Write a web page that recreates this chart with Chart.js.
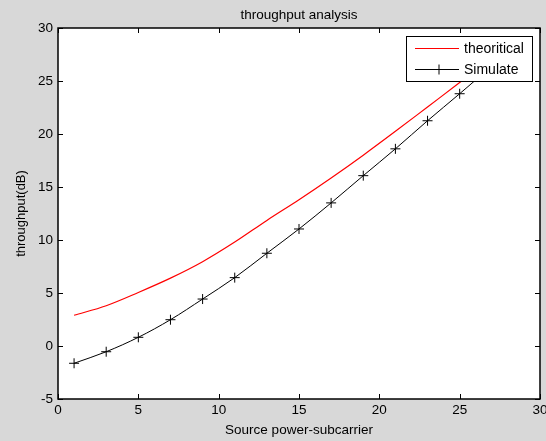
<!DOCTYPE html>
<html lang="en">
<head>
    <meta charset="UTF-8">
    <title>throughput analysis</title>
    <script src="https://cdn.jsdelivr.net/npm/chart.js"></script>
    <style>
        html, body {
            margin: 0;
            padding: 0;
            background: #d8d8d8;
        }
        .chart-box {
            width: 546px;
            height: 441px;
        }
    </style>
</head>
<body>
    <div class="chart-box">
        <canvas id="throughputChart" width="546" height="441"></canvas>
    </div>

    <script>
        // values
        const powerLevels = [1, 3, 5, 7, 9, 11, 13, 15, 17, 19, 21, 23, 25, 27];
        const theoretical = [2.9, 3.8, 5.05, 6.4, 7.95, 9.8, 11.85, 13.8, 15.85, 18.0, 20.25, 22.55, 24.85, 27.2];
        const simulated = [-1.63, -0.54, 0.82, 2.48, 4.43, 6.45, 8.75, 11.04, 13.5, 16.07, 18.6, 21.25, 23.8, 26.4];

        const FONT = 'Arial, "Liberation Sans", sans-serif';

        function toPoints(xs, ys) {
            return xs.map((x, i) => ({ x: x, y: ys[i] }));
        }

        // white plot area, box and inward ticks like matlab
        const matlabAxes = {
            id: 'matlabAxes',
            beforeDatasetsDraw(chart) {
                const { ctx, chartArea: a } = chart;
                ctx.save();
                ctx.fillStyle = '#ffffff';
                ctx.fillRect(a.left, a.top, a.right - a.left, a.bottom - a.top);
                ctx.restore();
            },
            afterDraw(chart) {
                const { ctx, chartArea: a, scales } = chart;
                const len = 5;
                ctx.save();
                ctx.strokeStyle = '#000000';
                ctx.lineWidth = 1;
                ctx.beginPath();
                scales.x.ticks.forEach(t => {
                    const px = Math.round(scales.x.getPixelForValue(t.value)) + 0.5;
                    ctx.moveTo(px, a.bottom);
                    ctx.lineTo(px, a.bottom - len);
                    ctx.moveTo(px, a.top);
                    ctx.lineTo(px, a.top + len);
                });
                scales.y.ticks.forEach(t => {
                    const py = Math.round(scales.y.getPixelForValue(t.value)) + 0.5;
                    ctx.moveTo(a.left, py);
                    ctx.lineTo(a.left + len, py);
                    ctx.moveTo(a.right, py);
                    ctx.lineTo(a.right - len, py);
                });
                ctx.stroke();
                ctx.lineWidth = 1.5;
                ctx.strokeRect(a.left, a.top, a.right - a.left, a.bottom - a.top);
                ctx.restore();
            }
        };

        // boxed legend in the top right corner
        const boxedLegend = {
            id: 'boxedLegend',
            afterDatasetsDraw(chart) {
                const { ctx, chartArea: a } = chart;
                const w = 126, h = 45;
                const x = a.right - w - 8;
                const y = a.top + 8;
                ctx.save();
                ctx.fillStyle = '#ffffff';
                ctx.fillRect(x, y, w, h);
                ctx.strokeStyle = '#000000';
                ctx.lineWidth = 1;
                ctx.strokeRect(x + 0.5, y + 0.5, w, h);

                chart.data.datasets.forEach((ds, i) => {
                    const cy = y + 12.5 + i * 21;
                    ctx.strokeStyle = ds.borderColor;
                    ctx.lineWidth = 1;
                    ctx.beginPath();
                    ctx.moveTo(x + 9, cy);
                    ctx.lineTo(x + 53, cy);
                    if (ds.pointStyle === 'cross') {
                        const mx = x + 33, r = 5;
                        ctx.moveTo(mx - r, cy);
                        ctx.lineTo(mx + r, cy);
                        ctx.moveTo(mx, cy - r);
                        ctx.lineTo(mx, cy + r);
                    }
                    ctx.stroke();
                    ctx.fillStyle = '#000000';
                    ctx.font = '14px ' + FONT;
                    ctx.textBaseline = 'middle';
                    ctx.textAlign = 'left';
                    ctx.fillText(ds.label, x + 58, cy + 1);
                });
                ctx.restore();
            }
        };

        const ctx = document.getElementById('throughputChart').getContext('2d');
        new Chart(ctx, {
            type: 'line',
            data: {
                datasets: [{
                    label: 'theoritical',
                    data: toPoints(powerLevels, theoretical),
                    borderColor: '#ff0000',
                    borderWidth: 1.2,
                    pointRadius: 0,
                    cubicInterpolationMode: 'monotone',
                    fill: false
                }, {
                    label: 'Simulate',
                    data: toPoints(powerLevels, simulated),
                    borderColor: '#000000',
                    borderWidth: 1,
                    pointStyle: 'cross',
                    pointRadius: 5,
                    pointBorderWidth: 1,
                    pointBorderColor: '#000000',
                    cubicInterpolationMode: 'monotone',
                    fill: false
                }]
            },
            options: {
                responsive: false,
                animation: false,
                events: [],
                layout: {
                    padding: { left: 0, right: 5, top: 0, bottom: 0 }
                },
                plugins: {
                    legend: { display: false },
                    tooltip: { enabled: false },
                    title: {
                        display: true,
                        text: 'throughput analysis',
                        fullSize: false,
                        color: '#000000',
                        font: { family: FONT, size: 13.5, weight: 'normal' },
                        padding: { top: 7, bottom: 4.8 }
                    }
                },
                scales: {
                    x: {
                        type: 'linear',
                        min: 0,
                        max: 30,
                        ticks: {
                            stepSize: 5,
                            color: '#000000',
                            padding: 3,
                            maxRotation: 0,
                            font: { family: FONT, size: 13.5 }
                        },
                        grid: { display: false, drawTicks: false },
                        border: { display: false },
                        title: {
                            display: true,
                            text: 'Source power-subcarrier',
                            color: '#000000',
                            font: { family: FONT, size: 13.5 },
                            padding: { top: 0, bottom: 3 }
                        },
                        afterFit(scale) {
                            scale.height = 42;
                            scale.paddingLeft = 0;
                            scale.paddingRight = 0;
                        }
                    },
                    y: {
                        type: 'linear',
                        min: -5,
                        max: 30,
                        ticks: {
                            stepSize: 5,
                            color: '#000000',
                            padding: 5,
                            font: { family: FONT, size: 13.5 }
                        },
                        grid: { display: false, drawTicks: false },
                        border: { display: false },
                        title: {
                            display: true,
                            text: 'throughput(dB)',
                            color: '#000000',
                            font: { family: FONT, size: 13 },
                            padding: { top: 14, bottom: 0 }
                        },
                        afterFit(scale) {
                            scale.width = 58;
                            scale.paddingTop = 0;
                            scale.paddingBottom = 0;
                        }
                    }
                }
            },
            plugins: [matlabAxes, boxedLegend]
        });
    </script>
</body>
</html>
